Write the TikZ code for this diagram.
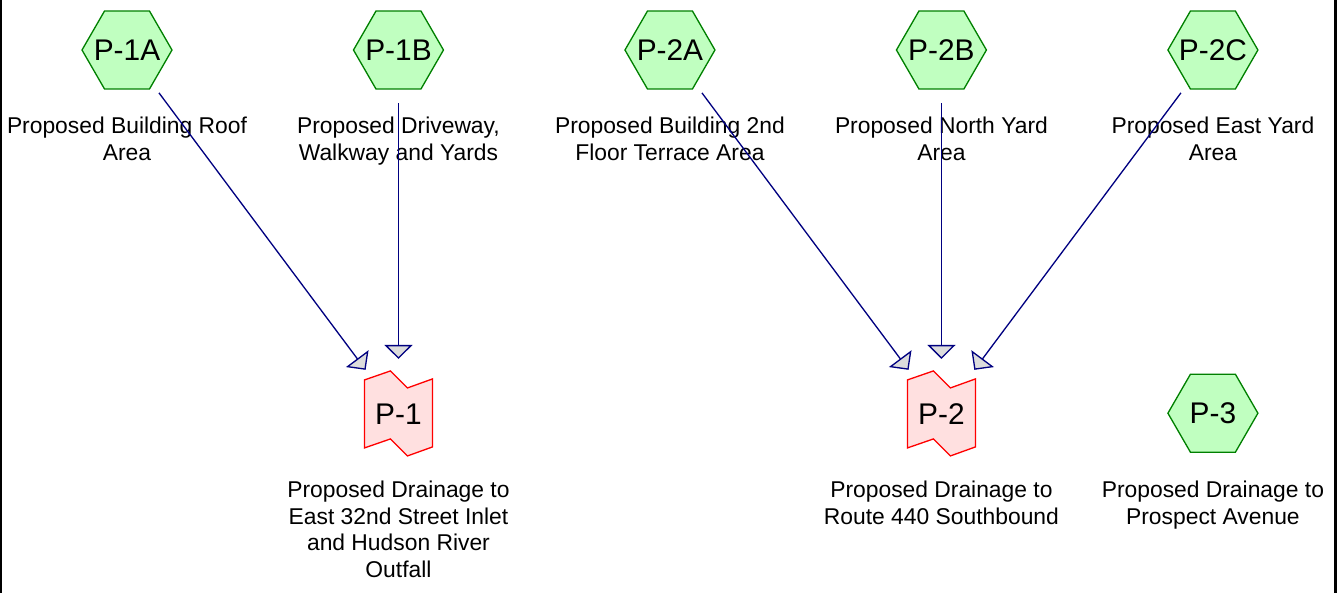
\documentclass[tikz,border=0pt]{standalone}
\usepackage{fontspec}
\setmainfont{Liberation Sans}
\usepackage{xcolor}
\usepackage{tikz}
\usetikzlibrary{positioning, arrows.meta, shapes.geometric, backgrounds}
\definecolor{areafill}{HTML}{C0FFC0}
\definecolor{areadraw}{HTML}{008000}
\definecolor{outfill}{HTML}{FFE0E0}
\definecolor{outdraw}{HTML}{FF0000}
\definecolor{flowline}{HTML}{000080}
\definecolor{tipfill}{HTML}{DCDCDC}
\tikzset{
  area/.style     = {regular polygon, regular polygon sides=6, draw=areadraw,
                     line width=0.75pt, fill=areafill, minimum size=1.8cm,
                     inner sep=0pt,
                     label={[inner sep=0pt, font=\fontsize{17}{20}\selectfont]center:#1}},
  outfall/.style  = {rectangle, minimum width=1.36cm, minimum height=1.36cm,
                     inner sep=0pt, font=\fontsize{17}{20}\selectfont},
  outline/.style  = {draw=outdraw, line width=0.75pt, fill=outfill},
  lbl/.style      = {inner sep=0pt, align=center,
                     font=\fontsize{13}{15.3}\selectfont},
  flow/.style     = {-{Triangle[length=0.28cm, width=0.56cm, fill=tipfill]},
                     draw=flowline, line width=0.75pt,
                     shorten <=1.07cm, shorten >=1.1cm},
}
\begin{document}
\begin{tikzpicture}[x=0.02cm, y=-0.02cm]
  \useasboundingbox (0,0) rectangle (1339,593);
  \draw[line width=1.2pt] (1,0) -- (1,593);
  \draw[line width=1.2pt] (1335.5,0) -- (1335.5,593);

  % drainage areas
  \node[area=P-1A] (p1a) at (127,50) {};
  \node[area=P-1B, right=3.60cm of p1a] (p1b) {};
  \node[area=P-2A, right=3.60cm of p1b] (p2a) {};
  \node[area=P-2B, right=3.60cm of p2a] (p2b) {};
  \node[area=P-2C, right=3.60cm of p2b] (p2c) {};

  \node[lbl, below=0.54cm of p1a] (l1a) {Proposed Building Roof\\Area};
  \node[lbl, below=0.54cm of p1b] (l1b) {Proposed Driveway,\\Walkway and Yards};
  \node[lbl, below=0.54cm of p2a] (l2a) {Proposed Building 2nd\\Floor Terrace Area};
  \node[lbl, below=0.54cm of p2b] (l2b) {Proposed North Yard\\Area};
  \node[lbl, below=0.54cm of p2c] (l2c) {Proposed East Yard\\Area};

  % outfalls
  \node[outfall, below=5.8cm of p1b] (p1) {P-1};
  \node[outfall, below=5.8cm of p2b] (p2) {P-2};
  \node[area=P-3, below=5.68cm of p2c] (p3) {};

  \begin{scope}[on background layer]
    \draw[outline] (p1.center) ++(-34,-34) -- ++(26,-9) -- ++(17,17) -- ++(25,-9)
      -- ++(0,68) -- ++(-25,9) -- ++(-17,-17) -- ++(-26,9) -- cycle;
    \draw[outline] (p2.center) ++(-34,-34) -- ++(26,-9) -- ++(17,17) -- ++(25,-9)
      -- ++(0,68) -- ++(-25,9) -- ++(-17,-17) -- ++(-26,9) -- cycle;
  \end{scope}

  \node[lbl, below=0.64cm of p1] (l1)
       {Proposed Drainage to\\East 32nd Street Inlet\\and Hudson River\\Outfall};
  \node[lbl, below=0.64cm of p2] (l2) {Proposed Drainage to\\Route 440 Southbound};
  \node[lbl, below=0.56cm of p3] (l3) {Proposed Drainage to\\Prospect Avenue};

  \draw[flow] (p1a.center) -- (p1.center);
  \draw[flow] (p1b.center) -- (p1.center);
  \draw[flow] (p2a.center) -- (p2.center);
  \draw[flow] (p2b.center) -- (p2.center);
  \draw[flow] (p2c.center) -- (p2.center);

\end{tikzpicture}
\end{document}
